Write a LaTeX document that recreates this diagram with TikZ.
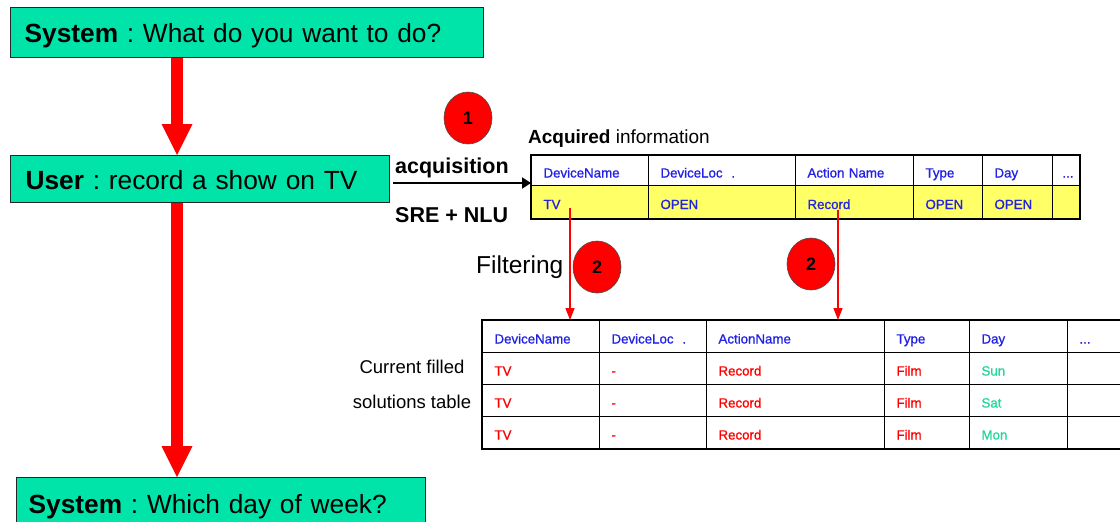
\documentclass[tikz,border=0pt]{standalone}
\usepackage{fontspec}
\setmainfont{Liberation Sans}
\newfontfamily\cellfont[BoldFont={Liberation Sans},BoldFeatures={FakeBold=1.0}]{Liberation Sans}
\usetikzlibrary{arrows.meta,matrix,shapes.geometric}
\frenchspacing

\definecolor{boxgreen}{RGB}{0,228,170}
\definecolor{rowyellow}{RGB}{255,255,102}
\definecolor{hdblue}{RGB}{34,34,230}
\definecolor{daygreen}{RGB}{36,214,158}

\tikzset{
  sbox/.style={draw=black!85,line width=1.2pt,fill=boxgreen,anchor=north west,align=left,
    text height=22pt,text depth=2pt,font=\fontsize{26.3}{30}\selectfont},
  bigarrow/.style={red,line width=12pt,-{Triangle[width=31pt,length=31pt,line width=0pt]}},
  badge/.style={ellipse,draw=black!70,line width=0.6pt,fill=red,minimum width=48pt,
    minimum height=52pt,inner sep=0pt,font=\fontsize{18}{20}\selectfont\bfseries},
  cell/.style={draw,line width=1pt,inner xsep=12pt,inner ysep=0pt,align=left,
    text height=16pt,text depth=2pt,font=\cellfont\bfseries\fontsize{13.3}{15}\selectfont},
  fltarrow/.style={red,line width=1.3pt,-{Triangle[width=9pt,length=12pt]}},
  lbl/.style={inner sep=0pt}
}

\begin{document}
\begin{tikzpicture}[x=1pt,y=1pt]
	\useasboundingbox (0,0) rectangle (1120,-522);
	% dialogue boxes
	\node[sbox,minimum width=473pt,minimum height=50pt,inner xsep=14pt,text width=445pt] (sys1) at (10,-7) {\textbf{System} : What do you want to do?};
	\node[sbox,minimum width=379pt,minimum height=47pt,inner xsep=15pt,text width=349pt] (user) at (10,-155) {\textbf{User} : record a show on TV};
	\node[sbox,minimum width=409pt,minimum height=52pt,inner xsep=12pt,text width=385pt] (sys3) at (16,-477) {\textbf{System} : Which day of week?};
	\coordinate (ax) at (177,0);
	\draw[bigarrow] (ax |- sys1.south) -- (ax |- user.north);
	\draw[bigarrow] (ax |- user.south) -- (ax |- sys3.north);

	% acquired information
	\node[lbl,anchor=base west,font=\fontsize{19}{21}\selectfont] (acqtitle) at (528,-143) {\textbf{Acquired} information};
	\matrix (acq) [matrix of nodes,nodes in empty cells,anchor=north west,inner sep=0pt,outer sep=0pt,
		column sep=-1pt,row sep=-1pt,nodes={cell,text=hdblue},
		row 1/.style={nodes={fill=white,minimum height=30pt}},
		row 2/.style={nodes={fill=rowyellow,minimum height=33pt}},
		column 1/.style={nodes={text width=93pt}},
		column 2/.style={nodes={text width=123pt}},
		column 3/.style={nodes={text width=94pt}},
		column 4/.style={nodes={text width=45pt}},
		column 5/.style={nodes={text width=46pt}},
		column 6/.style={nodes={text width=15pt,inner xsep=6pt,align=right}}] at (531,-155) {
		DeviceName & DeviceLoc~~. & Action Name & Type & Day & ... \\
		TV & OPEN & Record & OPEN & OPEN & \\
	};
	\draw[line width=2.5pt] (acq.north west) rectangle (acq.south east);

	\coordinate (ain) at (393,-183);
	\draw[line width=2pt,-{Triangle[width=11pt,length=9pt]}] (ain) -- (ain -| acq.west);
	\node[lbl,anchor=base west,font=\fontsize{21.5}{24}\selectfont\bfseries] (acqlbl) at (395,-173) {acquisition};
	\node[lbl,anchor=base west,font=\fontsize{21.5}{24}\selectfont\bfseries] (srelbl) at (395,-222) {SRE + NLU};
	\node[badge] (one) at (468,-118) {1};

	% filtering
	\node[lbl,anchor=base west,font=\fontsize{24.5}{26}\selectfont] (filt) at (476,-273) {Filtering};
	\node[lbl,anchor=base,font=\fontsize{18.5}{20}\selectfont] (curlbl) at (412,-373) {Current filled};
	\node[lbl,anchor=base,font=\fontsize{18.5}{20}\selectfont] (sollbl) at (412,-408) {solutions table};
	\matrix (sol) [matrix of nodes,nodes in empty cells,anchor=north west,inner sep=0pt,outer sep=0pt,
		column sep=-1pt,row sep=-1pt,nodes={cell,text=red,minimum height=32pt},
		row 1/.style={nodes={text=hdblue}},
		column 1/.style={nodes={text width=93pt}},
		column 2/.style={nodes={text width=83pt}},
		column 3/.style={nodes={text width=154pt}},
		column 4/.style={nodes={text width=61pt}},
		column 5/.style={nodes={text width=74pt,text=daygreen}},
		column 6/.style={nodes={text width=36pt}}] at (482,-320) {
		DeviceName & DeviceLoc~~. & ActionName & Type & Day & ... \\
		TV & - & Record & Film & Sun & \\
		TV & - & Record & Film & Sat & \\
		TV & - & Record & Film & Mon & \\
	};
	\draw[line width=2.5pt] (sol.north west) rectangle (sol.south east);

	\coordinate (fa) at (570,-208);
	\coordinate (fb) at (838,-210);
	\draw[fltarrow] (fa) -- (fa |- sol.north);
	\draw[fltarrow] (fb) -- (fb |- sol.north);
	\node[badge] (twoa) at (597,-267) {2};
	\node[badge] (twob) at (811,-264) {2};
\end{tikzpicture}
\end{document}
